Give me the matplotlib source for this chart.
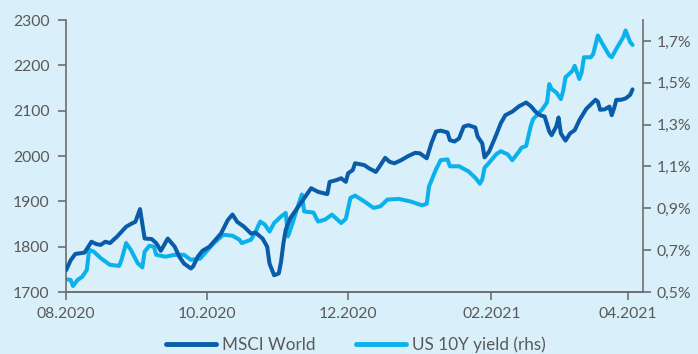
import matplotlib
matplotlib.use("Agg")
import matplotlib.pyplot as plt
import matplotlib.dates as mdates
import pandas as pd

# MSCI World index level (left axis)
msci_dates = [
    "2020-08-01", "2020-08-03", "2020-08-05", "2020-08-09", "2020-08-12", "2020-08-14",
    "2020-08-16", "2020-08-18", "2020-08-20", "2020-08-23", "2020-08-27", "2020-08-29",
    "2020-08-31", "2020-09-02", "2020-09-04", "2020-09-07", "2020-09-09", "2020-09-11",
    "2020-09-12", "2020-09-14", "2020-09-17", "2020-09-19", "2020-09-21", "2020-09-24",
    "2020-09-25", "2020-09-27", "2020-09-29", "2020-10-02", "2020-10-07", "2020-10-10",
    "2020-10-12", "2020-10-14", "2020-10-17", "2020-10-20", "2020-10-22", "2020-10-25",
    "2020-10-27", "2020-10-28", "2020-10-30", "2020-11-01", "2020-11-02", "2020-11-03",
    "2020-11-04", "2020-11-06", "2020-11-09", "2020-11-12", "2020-11-15", "2020-11-18",
    "2020-11-22", "2020-11-23", "2020-11-26", "2020-11-28", "2020-11-30", "2020-12-01",
    "2020-12-03", "2020-12-04", "2020-12-06", "2020-12-08", "2020-12-10", "2020-12-13",
    "2020-12-15", "2020-12-17", "2020-12-19", "2020-12-21", "2020-12-24", "2020-12-27",
    "2020-12-30", "2021-01-01", "2021-01-04", "2021-01-06", "2021-01-08", "2021-01-10",
    "2021-01-13", "2021-01-14", "2021-01-16", "2021-01-18", "2021-01-20", "2021-01-22",
    "2021-01-25", "2021-01-26", "2021-01-28", "2021-01-29", "2021-01-31", "2021-02-03",
    "2021-02-05", "2021-02-07", "2021-02-10", "2021-02-13", "2021-02-16", "2021-02-18",
    "2021-02-20", "2021-02-22", "2021-02-24", "2021-02-26", "2021-02-27", "2021-03-01",
    "2021-03-02", "2021-03-03", "2021-03-05", "2021-03-07", "2021-03-09", "2021-03-11",
    "2021-03-14", "2021-03-18", "2021-03-19", "2021-03-20", "2021-03-22", "2021-03-24",
    "2021-03-25", "2021-03-26", "2021-03-27", "2021-03-29", "2021-03-31", "2021-04-02",
    "2021-04-03",
]
msci_values = [
    1748, 1770, 1784, 1787, 1811, 1806,
    1804, 1811, 1808, 1822, 1844, 1850,
    1855, 1883, 1818, 1817, 1808, 1791,
    1800, 1818, 1800, 1778, 1763, 1752,
    1757, 1778, 1791, 1800, 1829, 1859,
    1871, 1855, 1844, 1829, 1831, 1818,
    1800, 1763, 1737, 1741, 1767, 1807,
    1837, 1863, 1885, 1907, 1929, 1921,
    1916, 1943, 1947, 1951, 1943, 1962,
    1969, 1984, 1982, 1980, 1973, 1965,
    1980, 1996, 1987, 1984, 1991, 2000,
    2007, 2006, 1995, 2028, 2054, 2056,
    2052, 2035, 2032, 2039, 2065, 2068,
    2063, 2043, 2028, 1997, 2010, 2046,
    2072, 2090, 2098, 2110, 2118, 2110,
    2098, 2090, 2087, 2054, 2046, 2065,
    2085, 2050, 2034, 2050, 2057, 2079,
    2104, 2124, 2120, 2102, 2103, 2109,
    2090, 2105, 2124, 2124, 2127, 2135,
    2147,
]

# US 10Y treasury yield in % (right axis)
yield_dates = [
    "2020-08-01", "2020-08-03", "2020-08-04", "2020-08-06", "2020-08-08", "2020-08-10",
    "2020-08-11", "2020-08-13", "2020-08-16", "2020-08-20", "2020-08-24", "2020-08-25",
    "2020-08-27", "2020-08-29", "2020-09-01", "2020-09-03", "2020-09-04", "2020-09-06",
    "2020-09-08", "2020-09-09", "2020-09-13", "2020-09-17", "2020-09-21", "2020-09-24",
    "2020-09-28", "2020-10-02", "2020-10-04", "2020-10-08", "2020-10-12", "2020-10-15",
    "2020-10-16", "2020-10-20", "2020-10-22", "2020-10-24", "2020-10-26", "2020-10-28",
    "2020-10-30", "2020-11-02", "2020-11-04", "2020-11-05", "2020-11-07", "2020-11-09",
    "2020-11-11", "2020-11-12", "2020-11-16", "2020-11-18", "2020-11-21", "2020-11-24",
    "2020-11-28", "2020-11-30", "2020-12-02", "2020-12-04", "2020-12-08", "2020-12-12",
    "2020-12-15", "2020-12-18", "2020-12-23", "2020-12-28", "2021-01-02", "2021-01-04",
    "2021-01-05", "2021-01-08", "2021-01-10", "2021-01-13", "2021-01-14", "2021-01-18",
    "2021-01-22", "2021-01-25", "2021-01-27", "2021-01-28", "2021-01-29", "2021-01-31",
    "2021-02-03", "2021-02-05", "2021-02-08", "2021-02-10", "2021-02-13", "2021-02-14",
    "2021-02-16", "2021-02-17", "2021-02-18", "2021-02-19", "2021-02-21", "2021-02-23",
    "2021-02-25", "2021-02-26", "2021-02-27", "2021-03-01", "2021-03-03", "2021-03-04",
    "2021-03-05", "2021-03-08", "2021-03-09", "2021-03-11", "2021-03-12", "2021-03-13",
    "2021-03-16", "2021-03-17", "2021-03-19", "2021-03-21", "2021-03-24", "2021-03-25",
    "2021-03-27", "2021-03-30", "2021-03-31", "2021-04-02", "2021-04-03",
]
yield_values = [
    0.561, 0.558, 0.529, 0.558, 0.573, 0.606,
    0.702, 0.693, 0.662, 0.630, 0.625, 0.654,
    0.734, 0.702, 0.638, 0.618, 0.693, 0.721,
    0.717, 0.678, 0.669, 0.678, 0.678, 0.654,
    0.660, 0.710, 0.734, 0.774, 0.769, 0.750,
    0.734, 0.750, 0.789, 0.837, 0.822, 0.789,
    0.830, 0.861, 0.878, 0.766, 0.830, 0.902,
    0.966, 0.885, 0.880, 0.837, 0.846, 0.870,
    0.830, 0.850, 0.950, 0.961, 0.933, 0.902,
    0.910, 0.942, 0.945, 0.933, 0.914, 0.922,
    1.005, 1.086, 1.130, 1.134, 1.101, 1.101,
    1.077, 1.046, 1.018, 1.038, 1.094, 1.118,
    1.158, 1.173, 1.158, 1.130, 1.173, 1.190,
    1.198, 1.246, 1.294, 1.326, 1.350, 1.374,
    1.406, 1.494, 1.470, 1.454, 1.422, 1.461,
    1.526, 1.557, 1.581, 1.518, 1.550, 1.622,
    1.622, 1.638, 1.726, 1.686, 1.630, 1.622,
    1.662, 1.718, 1.750, 1.694, 1.681,
]

left_ticks = [1700, 1800, 1900, 2000, 2100, 2200, 2300]
right_ticks = [0.5, 0.7, 0.9, 1.1, 1.3, 1.5, 1.7]
x_ticks = ["2020-08-01", "2020-10-01", "2020-12-01", "2021-02-01", "2021-04-01"]

BG = "#d9f0fa"
DARK = "#0a5ca8"
LIGHT = "#0bb1ea"
GREY = "#595959"
SPINE = "#6e6e6e"

plt.rcParams["font.family"] = ["Lato", "DejaVu Sans"]

fig = plt.figure(figsize=(6.98, 3.54), dpi=100, facecolor=BG)
ax = fig.add_axes([0.0946, 0.175, 0.8265, 0.7685], facecolor=BG)
ax2 = ax.twinx()

l1, = ax.plot(pd.to_datetime(msci_dates), msci_values, color=DARK, lw=2.9,
              solid_joinstyle="round", solid_capstyle="round", zorder=3)
l2, = ax2.plot(pd.to_datetime(yield_dates), yield_values, color=LIGHT, lw=2.9,
               solid_joinstyle="round", solid_capstyle="round")
# keep the index line on top of the yield line
ax.set_zorder(ax2.get_zorder() + 1)
ax.patch.set_visible(False)
ax2.patch.set_visible(True)
ax2.patch.set_facecolor(BG)

ax.set_xlim(pd.Timestamp("2020-08-01"), pd.Timestamp("2021-04-07 12:00"))
ax.set_ylim(1700, 2300)
ax2.set_ylim(0.5, 1.8)

ax.set_yticks(left_ticks)
ax.set_yticklabels([str(v) for v in left_ticks])
ax2.set_yticks(right_ticks)
ax2.set_yticklabels([f"{v:.1f}%".replace(".", ",") for v in right_ticks])
ax.set_xticks(pd.to_datetime(x_ticks))
ax.xaxis.set_major_formatter(mdates.DateFormatter("%m.%Y"))

for a in (ax, ax2):
    for s in a.spines.values():
        s.set_color(SPINE)
        s.set_linewidth(1.2)
    a.spines["top"].set_visible(False)
    a.tick_params(colors=SPINE, labelcolor=GREY, labelsize=11.3, length=6, width=1.2)
ax.spines["right"].set_visible(False)
ax2.spines["left"].set_visible(False)
ax.tick_params(axis="y", pad=6)
ax.tick_params(axis="x", pad=5)
ax2.tick_params(axis="y", pad=4)

leg = fig.legend([l1, l2], ["MSCI World", "US 10Y yield (rhs)"], loc="center",
                 bbox_to_anchor=(0.51, 0.025), ncol=2, frameon=False,
                 fontsize=12.3, handlelength=2.9, handletextpad=0.35,
                 columnspacing=2.4)
for t in leg.get_texts():
    t.set_color(GREY)
for h in leg.get_lines():
    h.set_linewidth(3.5)

fig.savefig("out.png", dpi=100, facecolor=BG)
